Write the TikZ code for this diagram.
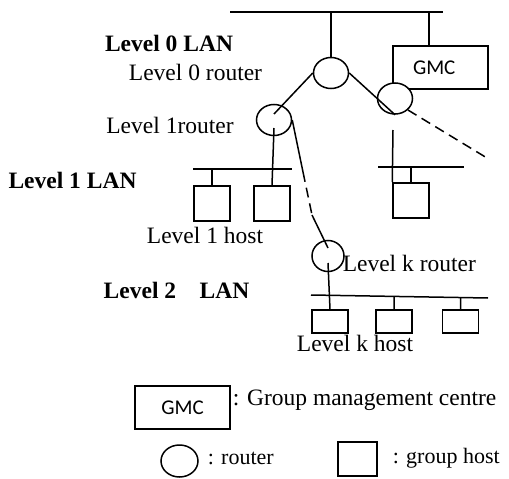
\documentclass[tikz,border=0pt]{standalone}
\usepackage{fontspec}
\setmainfont{Liberation Serif}
\newfontfamily\gmcfont{Carlito}
\usetikzlibrary{shapes.geometric}
\usetikzlibrary{calc}
\tikzset{router/.style={draw,ellipse,fill=white,inner sep=0pt,minimum width=35pt,minimum height=31pt}}
\tikzset{host/.style={draw,rectangle,inner sep=0pt,minimum width=36pt,minimum height=35pt}}
\tikzset{khost/.style={host,minimum height=23pt}}
\tikzset{gmcbox/.style={draw,rectangle,fill=white,inner sep=0pt,minimum width=95pt,minimum height=43pt,font=\gmcfont\fontsize{21}{21}\selectfont}}
\tikzset{t/.style={font=\fontsize{23.5}{23.5}\selectfont,inner sep=0pt}}
\tikzset{s/.style={font=\fontsize{22}{22}\selectfont,inner sep=0pt}}
\tikzset{b/.style={font=\bfseries\fontsize{23.5}{23.5}\selectfont,inner sep=0pt}}
\tikzset{lk/.style={dash pattern=on 10pt off 6pt}}

\begin{document}
\begin{tikzpicture}[x=1pt,y=-1pt,line width=1.5pt]
        \useasboundingbox (0,0) rectangle (509,479);
        % LAN lines
        \coordinate (lan0w) at (230,12);
        \coordinate (lan0e) at (443,12);
        \coordinate (lan1w) at (193,169);
        \coordinate (lan1e) at (292,169);
        \coordinate (lan1rw) at (378,167);
        \coordinate (lan1re) at (464,167);
        \coordinate (lan2w) at (311,295);
        \coordinate (lan2e) at (488,298);
        \draw (lan0w) -- (lan0e);
        \draw (lan1w) -- (lan1e);
        \draw (lan1rw) -- (lan1re);
        \draw (lan2w) -- (lan2e);
        % level 0
        \node [gmcbox,text width=55pt] (gmc) at (440.5,67.5) {GMC};
        \coordinate (gtap) at (429,12);
        \draw (gtap) -- (gtap |- gmc.north);
        \node [router] (r0) at (331,73) {};
        \draw (r0.north) -- (r0.north |- lan0w);
        \node [router] (r0r) at (395,98.5) {};
        \coordinate (dend) at (487,158);
        \coordinate (stub) at (393,130);
        \draw (r0.east) -- (r0r.south);
        \draw [lk] (r0r.south east) -- (dend);
        % level 1
        \node [router] (r1) at (274,120) {};
        \draw (r0.west) -- ([yshift=6pt]r1.center);
        \node [host] (h11) at (212,203.5) {};
        \node [host] (h12) at (272,203.5) {};
        \node [host] (h13) at (411,200.5) {};
        \draw ([yshift=-8pt]r1.center) -- (h12.north);
        \draw (h11.north) -- ($(lan1w)!(h11.north)!(lan1e)$);
        \draw (stub) -- (h13.north west);
        \draw (h13.north) -- ($(lan1rw)!(h13.north)!(lan1re)$);
        % down to level k
        \node [router,minimum width=32pt,minimum height=31pt] (rk) at (328,256) {};
        \coordinate (k1) at (303,172);
        \coordinate (k2) at (312,215);
        \draw (r1.east) -- (k1);
        \draw [lk] (k1) -- (k2);
        \draw (k2) -- ([yshift=8pt]rk.center);
        \node [khost] (hk1) at (330,321.5) {};
        \node [khost] (hk2) at (394,321.5) {};
        \node [khost] (hk3) at (460.5,321.5) {};
        \draw ([yshift=-7pt]rk.center) -- (hk1.north);
        \draw (hk2.north) -- ($(lan2w)!(hk2.north)!(lan2e)$);
        \draw (hk3.north) -- ($(lan2w)!(hk3.north)!(lan2e)$);
        % labels
        \node [b] (l0lan) at (169,43) {Level 0 LAN};
        \node [t] (l0r) at (195.5,72) {Level 0 router};
        \node [t] (l1r) at (170,125) {Level 1router};
        \node [b] (l1lan) at (72.5,180) {Level 1 LAN};
        \node [t] (l1h) at (205,235) {Level 1 host};
        \node [t,anchor=west] (lkr) at (342,263) {Level k router};
        \node [b] (l2lan) at (176.5,290) {Level 2\quad LAN};
        \node [t] (lkh) at (355,343) {Level k host};
        % legend
        \node [gmcbox] (legg) at (182.5,407.5) {GMC};
        \node [t,anchor=west] at (232,400) {: Group management centre};
        \node [router,minimum width=37pt,minimum height=32pt] (legr) at (179.5,461) {};
        \node [s,anchor=west] at (207,458) {: router};
        \node [host,minimum width=39pt,minimum height=34pt] (legh) at (357.5,459) {};
        \node [s,anchor=west] at (392,458) {: group host};
\end{tikzpicture}
\end{document}
